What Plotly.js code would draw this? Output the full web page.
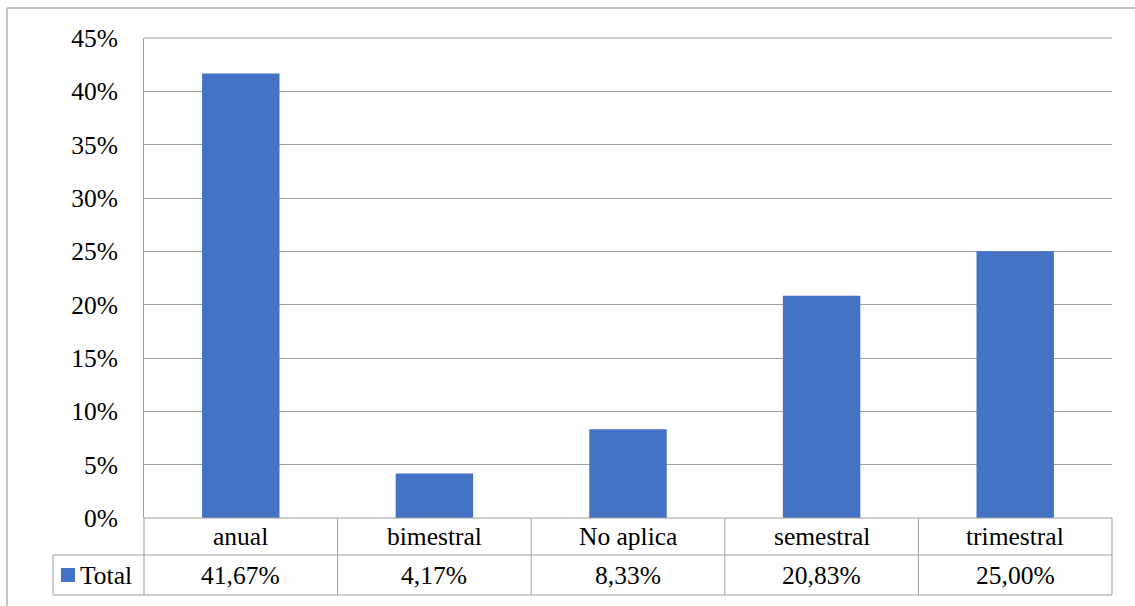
<!DOCTYPE html>
<html>
<head>
<meta charset="utf-8">
<script src="https://cdn.plot.ly/plotly-3.0.1.min.js"></script>
<style>html,body{margin:0;padding:0;background:#fff;}#chart{width:1135px;height:606px;}</style>
</head>
<body>
<div id="chart"></div>
<script>
const categories = ["anual", "bimestral", "No aplica", "semestral", "trimestral"];
const values = [0.4167, 0.0417, 0.0833, 0.2083, 0.25];
const seriesName = "Total";
const valueLabels = ["41,67%", "4,17%", "8,33%", "20,83%", "25,00%"];

const W = 1135, H = 606;
const mL = 144, mR = 23, mT = 38, mB = 88;
const plotW = W - mL - mR, plotH = H - mT - mB;
const px2x = p => (p - mL) / plotW;
const px2y = p => (H - mB - p) / plotH;

const FONT = "Liberation Serif";
const FS = 25.5;
const BAR = "#4472C4";
const LINE = "#a0a0a0";

const row1 = px2y(555), row2 = px2y(595);
const legL = px2x(53);
const shapes = [];
const ln = (x0, y0, x1, y1, c) => shapes.push({type: "line", xref: "paper", yref: "paper", x0, y0, x1, y1, line: {color: c || LINE, width: 1}});
// outer border
ln(px2x(7), px2y(8), px2x(1140), px2y(8), "#8c8c8c");
ln(px2x(7), px2y(8), px2x(7), px2y(610), "#8c8c8c");
// top gridline
ln(0, 1, 1, 1);
// table
ln(0, 0, 1, 0);
ln(legL, row1, 1, row1);
ln(legL, row2, 1, row2);
ln(legL, row1, legL, row2);
ln(0, 0, 0, row2);
for (let i = 1; i <= categories.length; i++) ln(i / categories.length, 0, i / categories.length, row2);
// legend swatch
shapes.push({type: "rect", xref: "paper", yref: "paper", x0: px2x(61), x1: px2x(75), y0: px2y(568), y1: px2y(582), fillcolor: BAR, line: {width: 0}});

const annotations = [];
categories.forEach((c, i) => {
  annotations.push({x: c, xref: "x", y: (0 + row1) / 2, yref: "paper", text: c, showarrow: false, xanchor: "center", yanchor: "middle", font: {family: FONT, size: FS, color: "#000"}});
  annotations.push({x: c, xref: "x", y: (row1 + row2) / 2, yref: "paper", text: valueLabels[i], showarrow: false, xanchor: "center", yanchor: "middle", font: {family: FONT, size: FS, color: "#000"}});
});
annotations.push({x: px2x(78), xref: "paper", y: (row1 + row2) / 2, yref: "paper", text: seriesName, showarrow: false, xanchor: "left", yanchor: "middle", font: {family: FONT, size: FS, color: "#000"}});

const data = [{type: "bar", x: categories, y: values, name: seriesName, marker: {color: BAR}, hoverinfo: "none"}];
const layout = {
  width: W, height: H,
  margin: {l: mL, r: mR, t: mT, b: mB, pad: 0},
  font: {family: FONT, size: FS, color: "#000"},
  paper_bgcolor: "#fff", plot_bgcolor: "#fff",
  showlegend: false,
  bargap: 0.6,
  xaxis: {type: "category", range: [-0.5, 4.5], showticklabels: false, showgrid: false, zeroline: false, showline: false, ticks: ""},
  yaxis: {range: [0, 0.45], dtick: 0.05, tick0: 0, tickformat: ".0%", showgrid: true, gridcolor: LINE, gridwidth: 1, zeroline: false, showline: true, linecolor: LINE, ticks: "", ticklabelstandoff: 20, tickfont: {family: FONT, size: FS, color: "#000"}},
  shapes, annotations
};
Plotly.newPlot("chart", data, layout, {staticPlot: true});
</script>
</body>
</html>
